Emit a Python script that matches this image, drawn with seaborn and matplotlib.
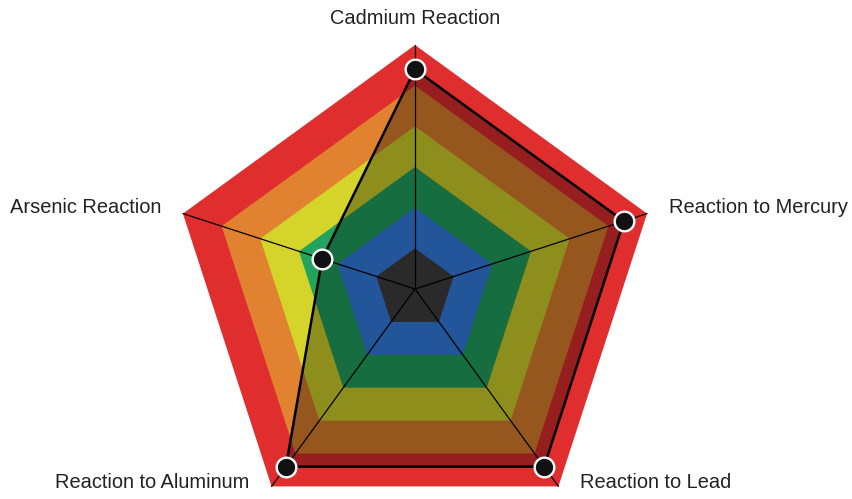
import numpy as np
import pandas as pd
import matplotlib
matplotlib.use("Agg")
import matplotlib.pyplot as plt
import seaborn as sns

# chart data
categories = ["Cadmium Reaction", "Reaction to Mercury", "Reaction to Lead",
              "Reaction to Aluminum", "Arsenic Reaction"]
values = [90, 90, 90, 90, 40]
max_value = 100
band_colors = ["#404040", "#337fe6", "#22a35e", "#d5d42a", "#e0822f", "#e02d2e"]

sns.set_style("white")
plt.rcParams["font.family"] = ["Liberation Sans", "DejaVu Sans"]

n = len(categories)
angles = np.deg2rad(90 - 360 / n * np.arange(n))
ux, uy = np.cos(angles), np.sin(angles)

fig = plt.figure(figsize=(8.52, 4.99), dpi=100)
ax = fig.add_axes([0, 0, 1, 1])
# 1 data unit = 244 px, centre at pixel (415, 289)
ax.set_xlim(-415 / 244, (852 - 415) / 244)
ax.set_ylim(-(499 - 289) / 244, 289 / 244)
ax.axis("off")

# coloured bands, outermost first
levels = np.linspace(max_value / len(band_colors), max_value, len(band_colors))
for lev, col in zip(levels[::-1], band_colors[::-1]):
    r = lev / max_value
    ax.fill(ux * r, uy * r, color=col, lw=0, zorder=1)

# data polygon
df = pd.DataFrame({"category": categories, "value": values})
df["x"] = ux * df["value"] / max_value
df["y"] = uy * df["value"] / max_value
ax.fill(df["x"], df["y"], color="black", alpha=0.33, lw=0, zorder=2)

# spokes
for x, y in zip(ux, uy):
    ax.plot([0, x], [0, y], color="black", lw=0.9, zorder=3)

ax.plot(list(df["x"]) + [df["x"][0]], list(df["y"]) + [df["y"][0]],
        color="black", lw=1.8, zorder=4)
sns.scatterplot(data=df, x="x", y="y", ax=ax, s=200, color="#111111",
                edgecolor="white", linewidth=1.7, zorder=5, legend=False)

# labels
fs = 14.4
for lab, x, y in zip(categories, ux, uy):
    if abs(x) < 1e-6:
        ax.text(0, y + 0.11, lab, ha="center", va="center", fontsize=fs, color="#222222")
    else:
        ha = "left" if x > 0 else "right"
        dy = 0.023 if y > 0 else 0.014
        ax.text(x + np.sign(x) * 0.089, y + dy, lab, ha=ha, va="center",
                fontsize=fs, color="#222222")

ax.set_xlabel("")
ax.set_ylabel("")
fig.savefig("out.png", dpi=100)
